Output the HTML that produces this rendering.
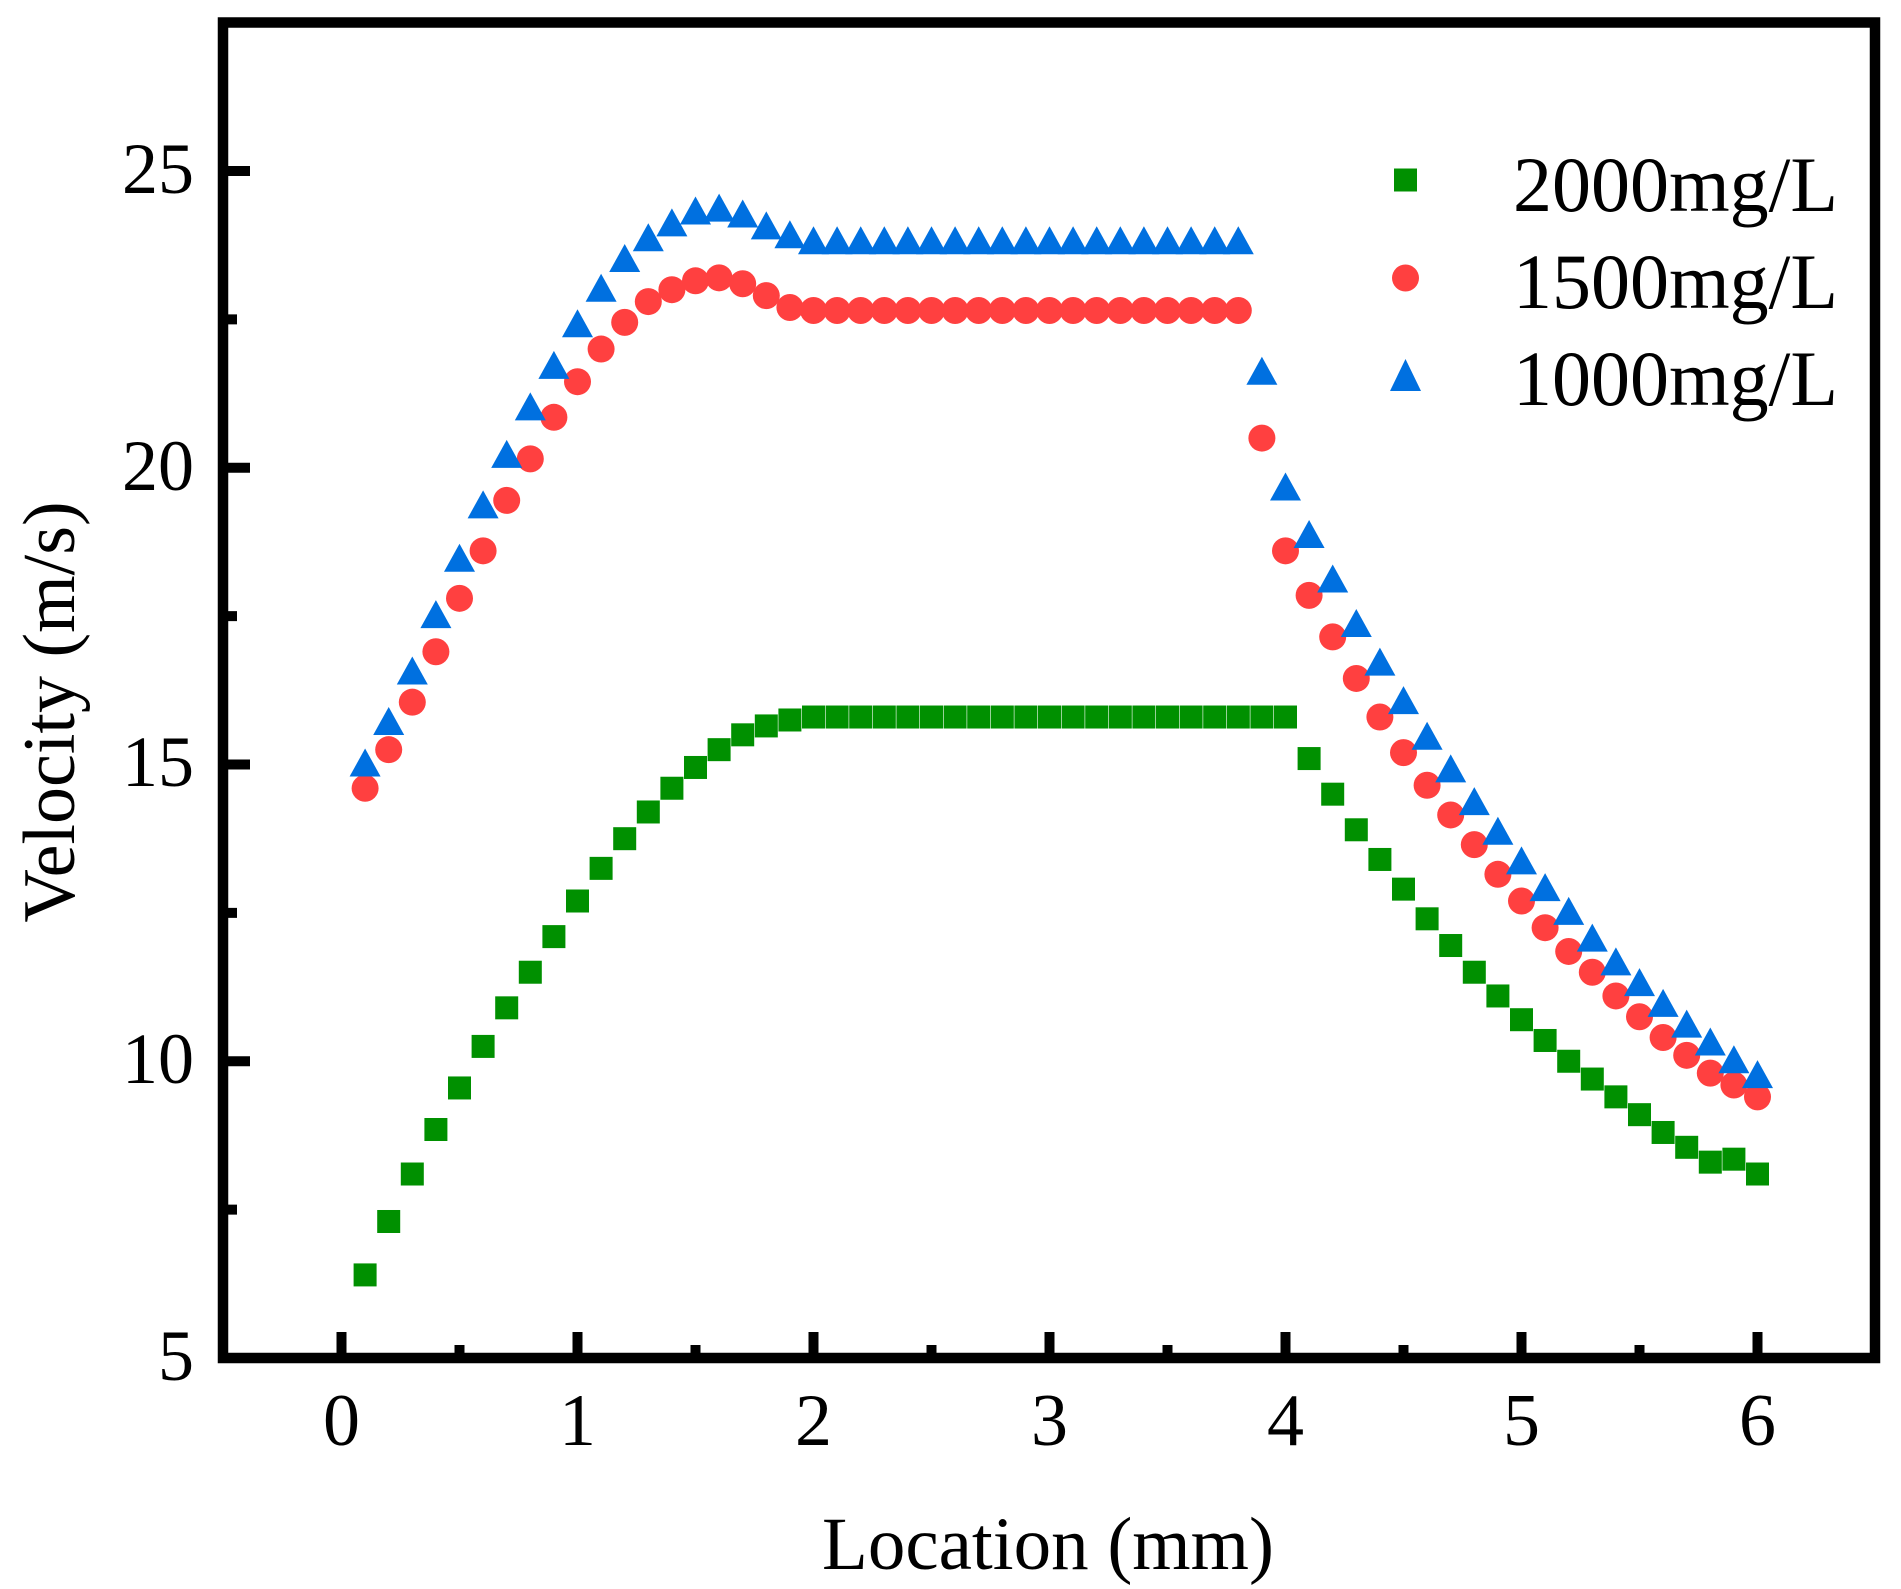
<!DOCTYPE html>
<html><head><meta charset="utf-8"><style>
html,body{margin:0;padding:0;background:#fff;width:1901px;height:1589px;overflow:hidden}
svg text{font-family:"Liberation Serif","Times New Roman",serif;fill:#000}
</style></head><body>
<svg id="s" width="1901" height="1589" viewBox="0 0 1901 1589" xmlns="http://www.w3.org/2000/svg">
<rect x="0" y="0" width="1901" height="1589" fill="#fff"/>
<g id="ticks" stroke="#000" stroke-width="10"></g>
<g id="pts"></g>
<rect x="223" y="22.5" width="1652" height="1335.5" fill="none" stroke="#000" stroke-width="10.5"/>
<g font-size="72" text-anchor="end">
<text x="194" y="1380">5</text>
<text x="194" y="1083">10</text>
<text x="194" y="786">15</text>
<text x="194" y="490">20</text>
<text x="194" y="193">25</text>
</g>
<g font-size="74" text-anchor="middle">
<text x="341.5" y="1445">0</text>
<text x="577.5" y="1445">1</text>
<text x="813.5" y="1445">2</text>
<text x="1049.5" y="1445">3</text>
<text x="1285.5" y="1445">4</text>
<text x="1521.5" y="1445">5</text>
<text x="1757.5" y="1445">6</text>
</g>
<text x="1048" y="1569" font-size="75" text-anchor="middle">Location (mm)</text>
<text transform="translate(74,712) rotate(-90)" font-size="74" text-anchor="middle">Velocity (m/s)</text>
<rect x="1394" y="168.5" width="23" height="23" fill="#009000"/>
<circle cx="1405.5" cy="278" r="13.5" fill="#ff4040"/>
<polygon points="1405.5,359 1421,391 1390,391" fill="#0070e0"/>
<g font-size="78" text-anchor="end">
<text x="1838" y="211">2000mg/L</text>
<text x="1838" y="308">1500mg/L</text>
<text x="1838" y="405">1000mg/L</text>
</g>
</svg>
<script>
(function(){
var NS="http://www.w3.org/2000/svg";
function X(x){return 341.5+236*x;}
function Y(v){return 1358-59.35*(v-5);}
var t=document.getElementById("ticks");
function line(x1,y1,x2,y2){var l=document.createElementNS(NS,"line");l.setAttribute("x1",x1);l.setAttribute("y1",y1);l.setAttribute("x2",x2);l.setAttribute("y2",y2);t.appendChild(l);}
for(var i=0;i<=12;i++){var x=i*0.5;line(X(x),1358,X(x),i%2==0?1332:1345);}
for(var j=0;j<=8;j++){var v=5+j*2.5;if(v>27)break;line(223,Y(v),j%2==0?250:237,Y(v));}
var g=[6.4,7.3,8.1,8.85,9.55,10.25,10.9,11.5,12.1,12.7,13.25,13.75,14.2,14.6,14.95,15.25,15.5,15.65,15.75];
while(g.length<40)g.push(15.8);
g=g.concat([15.1,14.5,13.9,13.4,12.9,12.4,11.95,11.5,11.1,10.7,10.35,10.0,9.7,9.4,9.1,8.8,8.55,8.3,8.35,8.1]);
var r=[14.6,15.25,16.05,16.9,17.8,18.6,19.45,20.15,20.85,21.45,22.0,22.45,22.8,23.0,23.15,23.2,23.1,22.9,22.7];
while(r.length<38)r.push(22.65);
r=r.concat([20.5,18.6,17.85,17.15,16.45,15.8,15.2,14.65,14.15,13.65,13.15,12.7,12.25,11.85,11.5,11.1,10.75,10.4,10.1,9.8,9.6,9.4]);
var b=[15.0,15.7,16.55,17.5,18.45,19.35,20.2,21.0,21.7,22.4,23.0,23.5,23.85,24.1,24.3,24.35,24.25,24.05,23.9];
while(b.length<38)b.push(23.8);
b=b.concat([21.6,19.65,18.85,18.1,17.35,16.7,16.05,15.45,14.9,14.35,13.85,13.35,12.9,12.5,12.05,11.65,11.3,10.95,10.6,10.3,10.0,9.75]);
var p=document.getElementById("pts");
var k,e,x,y;
for(k=0;k<g.length;k++){x=X(0.1*(k+1));y=Y(g[k]);e=document.createElementNS(NS,"rect");e.setAttribute("x",x-11.5);e.setAttribute("y",y-11.5);e.setAttribute("width",23);e.setAttribute("height",23);e.setAttribute("fill","#009000");p.appendChild(e);}
for(k=0;k<r.length;k++){x=X(0.1*(k+1));y=Y(r[k]);e=document.createElementNS(NS,"circle");e.setAttribute("cx",x);e.setAttribute("cy",y);e.setAttribute("r",13.5);e.setAttribute("fill","#ff4040");p.appendChild(e);}
for(k=0;k<b.length;k++){x=X(0.1*(k+1));y=Y(b[k]);e=document.createElementNS(NS,"polygon");e.setAttribute("points",x+","+(y-16)+" "+(x+15.5)+","+(y+12)+" "+(x-15.5)+","+(y+12));e.setAttribute("fill","#0070e0");p.appendChild(e);}
})();
</script>
</body></html>
